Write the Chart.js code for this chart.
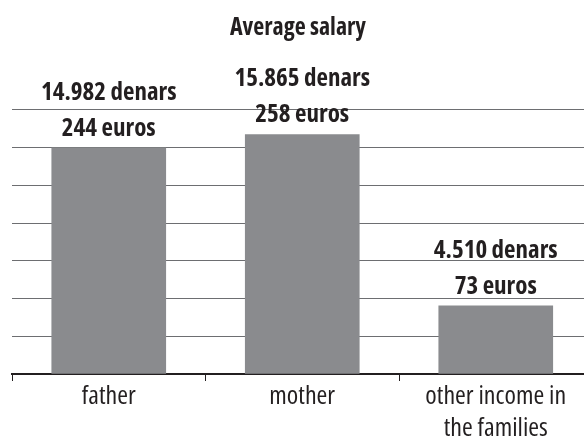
<!DOCTYPE html>
<html>
<head>
<meta charset="utf-8">
<script src="https://cdn.jsdelivr.net/npm/chart.js@4.4.1/dist/chart.umd.min.js"></script>
<style>
  html, body { margin: 0; padding: 0; background: #ffffff; }
  #wrap { width: 584px; height: 439px; }
</style>
</head>
<body>
<div id="wrap"><canvas id="c" width="584" height="439"></canvas></div>
<script>
const chartTitle = 'Average salary';
const categories = ['father', 'mother', ['other income in', 'the families']];
const denars = [14982, 15865, 4510];
const euros = [244, 258, 73];
const yTicksMax = 17500;
const yTickStep = 2500;

const FONT = "'Open Sans', 'DejaVu Sans Condensed', sans-serif";
const INK = '#231f20';

function fmt(n) {
  return String(n).replace(/\B(?=(\d{3})+(?!\d))/g, '.');
}

const valueLabels = {
  id: 'valueLabels',
  afterDatasetsDraw(chart) {
    const ctx = chart.ctx;
    const meta = chart.getDatasetMeta(0);
    ctx.save();
    ctx.fillStyle = INK;
    ctx.textAlign = 'center';
    ctx.textBaseline = 'alphabetic';
    ctx.font = "condensed bold 25px " + FONT;
    meta.data.forEach((bar, i) => {
      ctx.fillText(fmt(denars[i]) + ' denars', bar.x, bar.y - 48);
      ctx.fillText(euros[i] + ' euros', bar.x, bar.y - 12);
    });
    ctx.restore();
  }
};

new Chart(document.getElementById('c'), {
  type: 'bar',
  data: {
    datasets: [{
      data: denars.map((v, i) => ({ x: i, y: v })),
      backgroundColor: '#8a8b8e',
      borderWidth: 0,
      barThickness: 114
    }]
  },
  options: {
    responsive: false,
    animation: false,
    layout: { padding: { left: 12, right: 0, top: 0, bottom: 0 } },
    plugins: {
      legend: { display: false },
      tooltip: { enabled: false },
      title: {
        display: true,
        text: chartTitle,
        color: INK,
        font: { family: FONT, size: 24, weight: 'condensed bold', lineHeight: 1.2 },
        padding: { top: 14, bottom: 67 }
      }
    },
    scales: {
      x: {
        type: 'linear',
        min: -0.5,
        max: 2.456,
        offset: false,
        grid: {
          offset: false,
          drawOnChartArea: false,
          drawTicks: true,
          tickLength: 7,
          tickWidth: 1,
          tickColor: (c) => (c.tick && !Number.isInteger(c.tick.value)) ? INK : 'rgba(0,0,0,0)'
        },
        border: { display: true, color: INK, width: 2 },
        ticks: {
          stepSize: 0.5,
          includeBounds: false,
          autoSkip: false,
          maxRotation: 0,
          minRotation: 0,
          padding: 0,
          color: INK,
          font: { family: FONT, size: 26, weight: 'condensed', lineHeight: 1.23 },
          callback: (v) => Number.isInteger(v) ? categories[v] : ''
        },
        afterFit(scale) { scale.height = 65; }
      },
      y: {
        min: 0,
        max: yTicksMax,
        grid: { color: '#6d6e71', lineWidth: 1, drawTicks: false },
        border: { display: false },
        ticks: { display: false, stepSize: yTickStep }
      }
    }
  },
  plugins: [valueLabels]
});
</script>
</body>
</html>
